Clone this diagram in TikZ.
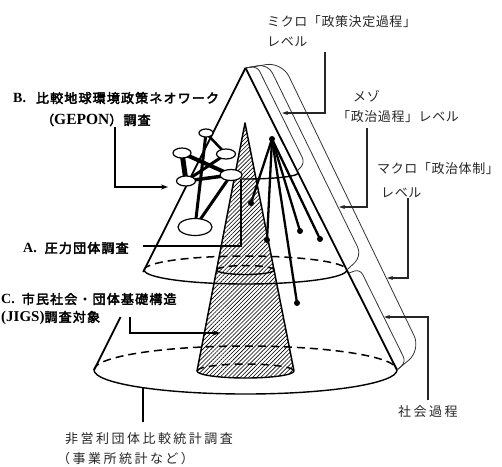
\documentclass[tikz,border=0pt]{standalone}
\usepackage{fontspec}
\setmainfont{Liberation Serif}
\newfontfamily\jpb[FakeBold=3,LetterSpace=9]{Noto Sans CJK JP}
\newfontfamily\jpr[LetterSpace=4.5]{Noto Sans CJK JP}
\newfontfamily\jpw[LetterSpace=19]{Noto Sans CJK JP}
\usetikzlibrary{patterns.meta,arrows.meta,shapes.geometric}
\pgfdeclarelayer{netedges}
\pgfdeclarelayer{netnodes}
\pgfsetlayers{main,netedges,netnodes}
\begin{document}
\begin{tikzpicture}[x=1pt,y=-1pt,
  coneline/.style={line width=1.8pt, line join=round},
  ell/.style={line width=1.4pt},
  dashell/.style={line width=1.5pt, dash pattern=on 8pt off 5pt},
  band/.style={line width=0.8pt, black!80},
  ptr/.style={line width=1.1pt, black!85, -{Stealth[length=6pt,width=4pt]}},
  bptr/.style={line width=1.7pt, -{Stealth[length=7pt,width=5pt]}},
  bline/.style={line width=1.7pt},
  netnode/.style={ellipse, draw, line width=1.2pt, fill=white, inner sep=0pt},
  netedge/.style={line width=3pt},
  ray/.style={line width=2.3pt},
  dotend/.style={circle, fill=black, inner sep=0pt, minimum size=6pt},
  lblR/.style={anchor=west, inner sep=0pt, font=\jpr\fontsize{13}{14}\selectfont, text=black!85},
  lblW/.style={anchor=west, inner sep=0pt, font=\jpw\fontsize{13}{14}\selectfont, text=black!85},
  lblB/.style={anchor=west, inner sep=0pt, font=\jpb\fontsize{13}{14}\selectfont}
]
\useasboundingbox (0,0) rectangle (502,466);

% key points
\coordinate (apex) at (245.5,68);
\coordinate (BL) at (94,370);
\coordinate (BR) at (397,370);
\coordinate (L1) at (143.2,272);
\coordinate (L2) at (120.6,317);
\coordinate (hapex) at (245,123);
\coordinate (hbl) at (197,371);
\coordinate (hbr) at (294,371);

% hatched inner cone
\fill[pattern={Lines[angle=45,distance=2.9pt,line width=0.6pt]}] (hapex) -- (hbl) arc[start angle=180,end angle=0,x radius=48.5,y radius=7] -- cycle;
\draw[line width=1.5pt, line join=round] (hbl) -- (hapex) -- (hbr);
\draw[ell] (hbl) arc[start angle=180,end angle=0,x radius=48.5,y radius=7];
\draw[dashell] (hbl) arc[start angle=180,end angle=360,x radius=48.5,y radius=7];
\draw[ell] (216.75,270) arc[start angle=180,end angle=0,x radius=28.75,y radius=4.5];
\draw[dashell] (216.75,270) arc[start angle=180,end angle=360,x radius=28.75,y radius=4.5];

% outer cone
\draw[coneline] (apex) -- (BR);
\draw[coneline] (apex) -- (L1);
\draw[coneline] (L2) -- (BL);
\draw[ell] (BL) arc[start angle=180,end angle=0,x radius=151.5,y radius=24];
\draw[dashell] (BL) arc[start angle=180,end angle=360,x radius=151.5,y radius=24];
\draw[ell] (144.2,270) arc[start angle=180,end angle=0,x radius=101.3,y radius=14];
\draw[dashell] (144.2,270) arc[start angle=180,end angle=360,x radius=101.3,y radius=14];
\draw[ell] (298.2,173) arc[start angle=0,end angle=95,x radius=52.7,y radius=6];

% level bands
\draw[band, rounded corners=6pt] (apex) -- (257,66) -- (305,163) -- (297,171);
\draw[band, rounded corners=10pt] (apex) -- (268,64) -- (362,256) -- (346.8,270);
\draw[band, rounded corners=16pt] (apex) -- (282,62) -- (421,350) -- (BR);
\draw[band, rounded corners=6pt] (349,273) -- (360,269) -- (406,362) -- (BR);

% pressure group rays
\node[dotend, minimum size=6pt] (hub) at (272,139) {};
\node[dotend] (r1) at (251,203) {};
\node[dotend] (r2) at (267,240) {};
\node[dotend] (r3) at (300,231) {};
\node[dotend] (r4) at (320,239) {};
\node[dotend] (r5) at (297,303) {};
\foreach \r in {r1,r2,r3,r4,r5} \draw[ray] (hub.center) -- (\r.center);

% GEPON network
\begin{pgfonlayer}{netnodes}
\node[netnode, minimum width=14pt, minimum height=8pt] (n1) at (206,133) {};
\node[netnode, minimum width=18pt, minimum height=10pt] (n2) at (182,153) {};
\node[netnode, minimum width=19pt, minimum height=10pt] (n3) at (226,154) {};
\node[netnode, minimum width=19pt, minimum height=10pt] (n4) at (186,181) {};
\node[netnode, minimum width=22pt, minimum height=11pt] (n5) at (231,175) {};
\node[netnode, minimum width=34pt, minimum height=17pt] (n6) at (195,227) {};
\end{pgfonlayer}
\begin{pgfonlayer}{netedges}
\draw[netedge, line width=5pt] (n2.center) -- (n4.center);
\draw[netedge, line width=4pt] (n2.center) -- (n5.center);
\draw[netedge, line width=3.5pt] (n4.center) -- (n5.center);
\draw[netedge] (n1.center) -- (n6.center);
\draw[netedge, line width=2.5pt] (n1.center) -- (n3.center);
\draw[netedge] (n3.center) -- (n4.center);
\draw[netedge] (n5.center) -- (n6.center);
\end{pgfonlayer}

% pointers (right)
\coordinate (miS) at (325,52); \coordinate (miC) at (325,113); \coordinate (miE) at (282,113);
\draw[ptr] (miS) -- (miC) -- (miE);
\coordinate (meS) at (367,128); \coordinate (meC) at (367,207); \coordinate (meE) at (339,207);
\draw[ptr] (meS) -- (meC) -- (meE);
\coordinate (maS) at (408,198); \coordinate (maC) at (408,278); \coordinate (maE) at (387,278);
\draw[ptr] (maS) -- (maC) -- (maE);
\coordinate (soS) at (428,400); \coordinate (soC) at (428,317); \coordinate (soE) at (384,317);
\draw[ptr] (soS) -- (soC) -- (soE);

% pointers (left)
\coordinate (gS) at (115,127); \coordinate (gC) at (115,187); \coordinate (gE) at (168,187);
\draw[bptr] (gS) -- (gC) -- (gE);
\coordinate (jS) at (130,317); \coordinate (jC) at (130,333); \coordinate (jE) at (220,333);
\draw[bptr] (jS) -- (jC) -- (jE);
\coordinate (aS) at (143,246); \coordinate (aC) at (241,246); \coordinate (aE) at (241,179);
\draw[bline] (aS) -- (aC) -- (aE);
\coordinate (nS) at (143,387.7); \coordinate (nE) at (143,422);
\draw[bline] (nS) -- (nE);

% labels
\node[lblR] (labMi1) at (267,22) {ミクロ「政策決定過程」};
\node[lblR] (labMi2) at (267,42) {レベル};
\node[lblR] (labMe1) at (353,96) {メゾ};
\node[lblR] (labMe2) at (337,117) {「政治過程」レベル};
\node[lblR] (labMa1) at (377,169) {マクロ「政治体制」};
\node[lblR] (labMa2) at (381,193) {レベル};
\node[lblW] (labS) at (398,412) {社会過程};
\node[lblW] (labN1) at (65,439) {非営利団体比較統計調査};
\node[lblW] (labN2) at (57,459) {（事業所統計など）};

\node[lblB] (labB) at (13,98) {{\rmfamily\bfseries\fontsize{14}{15}\selectfont B.}\hspace{10pt}比較地球環境政策ネオワーク};
\node[lblB] (labG) at (41,120) {（{\rmfamily\bfseries\fontsize{15.5}{16}\selectfont GEPON}）調査};
\node[lblB] (labA) at (23,248) {{\rmfamily\bfseries\fontsize{14}{15}\selectfont A.}\hspace{8pt}圧力団体調査};
\node[lblB] (labC) at (1,299) {{\rmfamily\bfseries\fontsize{14}{15}\selectfont C.}\hspace{7pt}市民社会・団体基礎構造};
\node[lblB] (labJ) at (1,318) {{\rmfamily\bfseries\fontsize{15}{16}\selectfont (JIGS)}調査対象};
\end{tikzpicture}
\end{document}
